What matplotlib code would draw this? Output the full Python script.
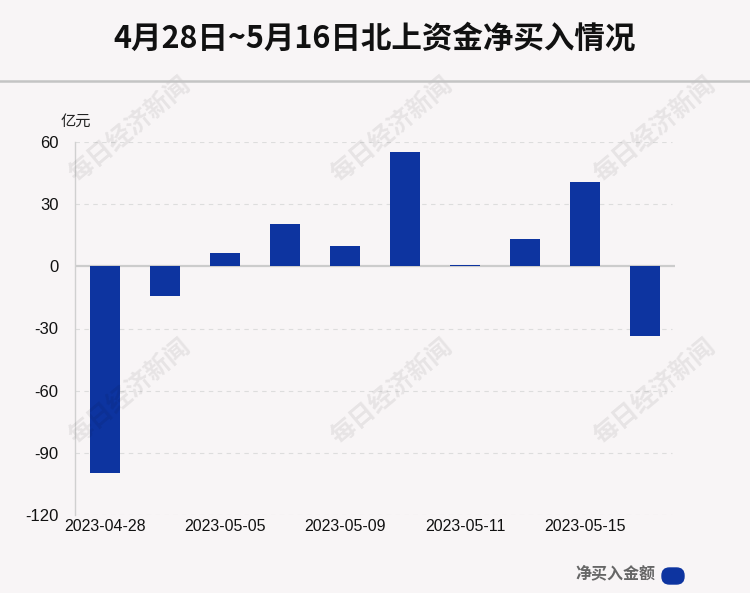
import matplotlib
matplotlib.use("Agg")
import matplotlib.pyplot as plt
from matplotlib.patches import FancyBboxPatch
from matplotlib.lines import Line2D

plt.rcParams['font.family'] = ['Liberation Sans', 'Noto Sans CJK SC', 'DejaVu Sans']

dates = ["2023-04-28", "2023-05-04", "2023-05-05", "2023-05-08", "2023-05-09",
         "2023-05-10", "2023-05-11", "2023-05-12", "2023-05-15", "2023-05-16"]
values = [-99.8, -14.4, 6.2, 20.3, 9.6, 55.3, 0.5, 13.0, 40.8, -33.7]
yticks = [60, 30, 0, -30, -60, -90, -120]
title = "4月28日~5月16日北上资金净买入情况"
unit = "亿元"
legend_label = "净买入金额"
watermark = "每日经济新闻"

bg = "#f8f5f6"
bar_color = "#0d34a0"

fig = plt.figure(figsize=(7.5, 5.93), dpi=100)
fig.patch.set_facecolor(bg)

ax = fig.add_axes([0.1, 1 - 515 / 593, 0.8, (515 - 142) / 593])
ax.set_facecolor(bg)
x = list(range(len(dates)))
ax.bar(x, values, width=0.5, color=bar_color, zorder=3)
ax.set_xlim(-0.5, 9.5)
ax.set_ylim(-120, 60)
ax.set_yticks(yticks)
ax.set_yticklabels([str(v) for v in yticks], fontsize=12, color="#111111")
ax.set_xticks(x[::2])
ax.set_xticklabels(dates[::2], fontsize=11.5, color="#111111")
ax.tick_params(axis='both', length=0)
ax.tick_params(axis='y', pad=12)
ax.tick_params(axis='x', pad=3)
for s in ['top', 'right', 'bottom']:
    ax.spines[s].set_visible(False)
ax.spines['left'].set_color("#d0d0d0")
ax.spines['left'].set_linewidth(1)
for v in yticks:
    if v != 0:
        ax.axhline(v, color="#dddddd", linestyle=(0, (4, 4)), linewidth=0.8, zorder=1, xmax=0.995)
ax.axhline(0, color="#cccccc", linewidth=1.6, zorder=2)

# unit label
fig.text(61 / 750, 1 - 121 / 593, unit, fontsize=11, color="#222222",
         family=['Noto Sans CJK SC'], ha='left', va='center')

# title
fig.text(0.5, 1 - 39 / 593, title, fontsize=22, fontweight='bold', color="#111111",
         family=['Noto Sans CJK SC'], ha='center', va='center')

# separator
fig.add_artist(Line2D([0, 1], [1 - 81 / 593, 1 - 81 / 593], color="#c4c4c4",
                      linewidth=1.8, transform=fig.transFigure))

# watermarks
for wx in [130, 392, 655]:
    for wy in [130, 392]:
        fig.text(wx / 750, 1 - wy / 593, watermark, fontsize=18, fontweight='bold',
                 color="#000000", alpha=0.07, rotation=40, family=['Noto Sans CJK SC'],
                 ha='center', va='center', zorder=0)

# legend
fig.text(655 / 750, 1 - 573 / 593, legend_label, fontsize=11.5, fontweight='bold',
         color="#666666", family=['Noto Sans CJK SC'], ha='right', va='center')
fig.add_artist(FancyBboxPatch((6.62, (593 - 584) / 100), 0.22, 0.16,
                              boxstyle="round,pad=0,rounding_size=0.075",
                              transform=fig.dpi_scale_trans, facecolor=bar_color,
                              edgecolor=bar_color))

fig.savefig("out.png", dpi=100, facecolor=bg)
